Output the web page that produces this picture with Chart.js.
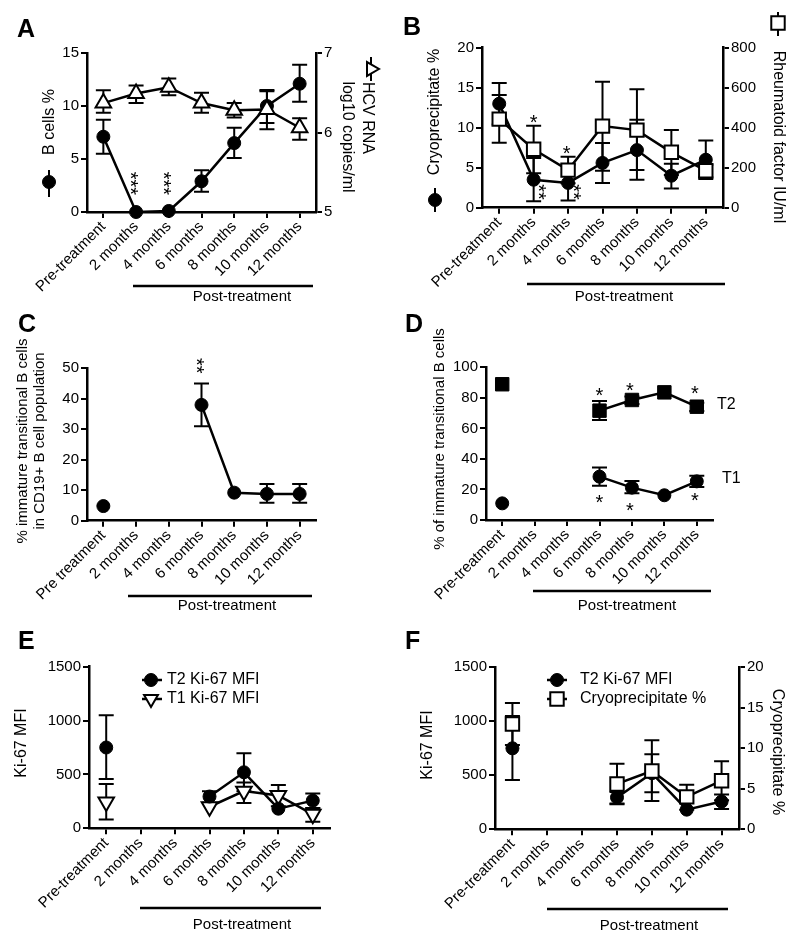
<!DOCTYPE html>
<html><head><meta charset="utf-8">
<script src="https://cdn.jsdelivr.net/npm/chart.js@4.4.0/dist/chart.umd.min.js"></script>
<style>
html,body{margin:0;padding:0;background:#fff;}
body{width:800px;height:947px;position:relative;overflow:hidden;}
canvas{position:absolute;}
</style></head><body>
<canvas id="cA" width="400" height="307" style="left:0;top:0;width:400px;height:307px"></canvas>
<canvas id="cB" width="400" height="307" style="left:400px;top:0;width:400px;height:307px"></canvas>
<canvas id="cC" width="400" height="308" style="left:0;top:307px;width:400px;height:308px"></canvas>
<canvas id="cD" width="400" height="308" style="left:400px;top:307px;width:400px;height:308px"></canvas>
<canvas id="cE" width="400" height="332" style="left:0;top:615px;width:400px;height:332px"></canvas>
<canvas id="cF" width="400" height="332" style="left:400px;top:615px;width:400px;height:332px"></canvas>
<script>
// ---------------- DATA ----------------
const timepoints  = ['Pre-treatment','2 months','4 months','6 months','8 months','10 months','12 months'];
const timepointsC = ['Pre treatment','2 months','4 months','6 months','8 months','10 months','12 months'];

// Panel A
const bCells   = [7.1, 0, 0.1, 2.9, 6.5, 10.0, 12.1];
const bCellsLo = [5.5, null, null, 1.9, 5.1, 8.4, 10.4];
const bCellsHi = [8.7, null, null, 3.95, 7.95, 11.5, 13.9];
const hcvRna   = [6.37, 6.49, 6.57, 6.37, 6.28, 6.29, 6.06];
const hcvRnaLo = [6.25, 6.37, 6.47, 6.25, 6.19, 6.04, 5.91];
const hcvRnaHi = [6.53, 6.59, 6.68, 6.50, 6.37, 6.52, 6.18];

// Panel B
const cryo    = [13.0, 3.5, 3.1, 5.6, 7.2, 4.0, 6.0];
const cryoLo  = [10.4, 0.8, 0.9, 3.1, 3.5, 2.4, 3.6];
const cryoHi  = [15.6, 6.2, 5.4, 8.1, 11.0, 5.5, 8.4];
const rheum   = [443, 292, 188, 408, 388, 277, 185];
const rheumLo = [325, 172, 122, 185, 188, 163, 152];
const rheumHi = [563, 410, 255, 630, 592, 388, 215];

// Panel C
const immature   = [4.8, null, null, 38.0, 9.2, 8.8, 8.8];
const immatureLo = [null, null, null, 31.0, null, 5.9, 5.9];
const immatureHi = [null, null, null, 45.0, null, 12.0, 12.0];

// Panel D
const t2Pct   = [88.9, null, null, 71.6, 78.6, 83.6, 74.2];
const t2PctLo = [null, null, null, 65.5, 76.0, null, 71.4];
const t2PctHi = [null, null, null, 77.9, 80.8, null, 76.8];
const t1Pct   = [10.9, null, null, 28.4, 21.2, 16.2, 25.3];
const t1PctLo = [null, null, null, 22.5, 17.5, null, 21.6];
const t1PctHi = [null, null, null, 34.3, 25.5, null, 29.0];

// Panel E / F
const t2Ki67   = [750, null, null, 295, 520, 182, 257];
const t2Ki67Lo = [457, null, null, 238, 344, null, 188];
const t2Ki67Hi = [1050, null, null, 345, 696, null, 322];
const t1Ki67   = [245, null, null, 200, 345, 305, 130];
const t1Ki67Lo = [82, null, null, null, 235, 205, 60];
const t1Ki67Hi = [412, null, null, null, 424, 402, 186];
const cryoF    = [13.0, null, null, 5.6, 7.2, 4.0, 6.0];
const cryoFLo  = [10.4, null, null, 3.1, 3.5, 2.4, 3.6];
const cryoFHi  = [15.6, null, null, 8.1, 11.0, 5.5, 8.4];

// ---------------- STYLE HELPERS ----------------
const FONT = '"Liberation Sans", Arial, Helvetica, sans-serif';
Chart.defaults.font.family = FONT;
Chart.defaults.font.size = 15;
Chart.defaults.color = '#000';

const CIRCLE   = {pointStyle:'circle',   pointRadius:6.5, pointBackgroundColor:'#000', pointBorderColor:'#000', pointBorderWidth:1};
const TRI_UP   = {pointStyle:'triangle', pointRadius:9,   pointBackgroundColor:'#fff', pointBorderColor:'#000', pointBorderWidth:2};
const TRI_DOWN = Object.assign({}, TRI_UP, {pointRotation:180});
const SQ_OPEN  = {pointStyle:'rect',     pointRadius:9.5, pointBackgroundColor:'#fff', pointBorderColor:'#000', pointBorderWidth:2};
const SQ_FILL  = {pointStyle:'rect',     pointRadius:9.5, pointBackgroundColor:'#000', pointBorderColor:'#000', pointBorderWidth:1};

function series(data, lo, hi, marker, axis) {
  return Object.assign({
    data: data, errLo: lo, errHi: hi, yAxisID: axis || 'y',
    borderColor:'#000', borderWidth:2.5, tension:0, fill:false, spanGaps:false,
    showLine:true, clip:false, pointHoverRadius: marker.pointRadius
  }, marker);
}

function yAxis(pos, min, max, step, width) {
  return {
    type:'linear', position:pos, min:min, max:max,
    ticks:{stepSize:step, color:'#000', font:{size:15}, padding:2, callback:(v) => String(v)},
    grid:{display:true, drawOnChartArea:false, drawTicks:true, tickLength:6, color:'#000', lineWidth:2},
    border:{display:true, color:'#000', width:2.5},
    afterFit(s){ s.width = width; }
  };
}
function xAxis(height) {
  return {
    type:'category', offset:true,
    ticks:{color:'#000', font:{size:15}, minRotation:45, maxRotation:45, autoSkip:false, padding:0},
    grid:{display:true, drawOnChartArea:false, drawTicks:true, tickLength:6, color:'#000', lineWidth:2, offset:false},
    border:{display:true, color:'#000', width:2.5},
    afterFit(s){ s.height = height; }
  };
}

function drawMarker(ctx, kind, x, y, r, fill, rot) {
  ctx.save(); ctx.translate(x, y); ctx.rotate((rot||0)*Math.PI/180);
  ctx.beginPath();
  if (kind === 'circle') ctx.arc(0, 0, r, 0, 2*Math.PI);
  else if (kind === 'rect') { const s = r*Math.SQRT1_2; ctx.rect(-s, -s, 2*s, 2*s); }
  else if (kind === 'triangle') {
    for (let k = 0; k < 3; k++) {
      const a = k*2*Math.PI/3, px = Math.sin(a)*r, py = -Math.cos(a)*r;
      if (k) ctx.lineTo(px, py); else ctx.moveTo(px, py);
    }
    ctx.closePath();
  }
  ctx.fillStyle = fill; ctx.fill();
  ctx.lineWidth = (fill === '#000') ? 1 : 2; ctx.strokeStyle = '#000'; ctx.stroke();
  ctx.restore();
}

// error bars drawn through the chart scales
const errorBars = {
  id:'errorBars',
  beforeDatasetsDraw(chart) {
    const ctx = chart.ctx;
    ctx.save(); ctx.strokeStyle = '#000'; ctx.lineWidth = 2;
    chart.data.datasets.forEach((d, di) => {
      if (!d.errLo) return;
      const meta = chart.getDatasetMeta(di);
      const ys = chart.scales[meta.yAxisID];
      meta.data.forEach((pt, i) => {
        if (d.data[i] == null) return;
        const x = pt.x, y0 = ys.getPixelForValue(d.data[i]);
        [d.errLo[i], d.errHi[i]].forEach(v => {
          if (v == null) return;
          const y = ys.getPixelForValue(v);
          ctx.beginPath(); ctx.moveTo(x, y0); ctx.lineTo(x, y);
          ctx.moveTo(x-7.5, y); ctx.lineTo(x+7.5, y); ctx.stroke();
        });
      });
    });
    ctx.restore();
  }
};

// decorations: panel letters, axis titles, stars, bracket, legends
const decor = {
  id:'decor',
  afterDraw(chart, args, o) {
    const ctx = chart.ctx;
    ctx.save();
    ctx.fillStyle = '#000'; ctx.strokeStyle = '#000';
    if (o.letter) {
      ctx.font = 'bold 25px ' + FONT; ctx.textAlign = 'left'; ctx.textBaseline = 'alphabetic';
      ctx.fillText(o.letter.t, o.letter.x, o.letter.y);
    }
    (o.titles || []).forEach(t => {
      ctx.save(); ctx.translate(t.x, t.y); ctx.rotate(t.rot*Math.PI/180);
      ctx.font = (t.size || 16) + 'px ' + FONT; ctx.textAlign = 'center'; ctx.textBaseline = 'middle';
      ctx.fillText(t.t, 0, 0); ctx.restore();
    });
    (o.symbols || []).forEach(s => {
      ctx.lineWidth = 2; ctx.beginPath(); ctx.moveTo(s.line[0], s.line[1]); ctx.lineTo(s.line[2], s.line[3]); ctx.stroke();
      drawMarker(ctx, s.kind, s.x, s.y, s.r, s.fill, s.rot);
    });
    (o.stars || []).forEach(s => {
      const xs = chart.scales.x, ys = chart.scales[s.axis || 'y'];
      const x = xs.getPixelForValue(s.i) + (s.dx || 0), y = ys.getPixelForValue(s.v);
      const size = s.size || 20;
      ctx.save(); ctx.translate(x, y); ctx.rotate((s.rot || 0)*Math.PI/180);
      ctx.font = size + 'px ' + FONT; ctx.textAlign = 'center'; ctx.textBaseline = 'alphabetic';
      ctx.fillText(s.t, 0, 0.58*size); ctx.restore();
    });
    if (o.post) {
      const p = o.post;
      ctx.lineWidth = 2.5; ctx.beginPath(); ctx.moveTo(p.x1, p.y); ctx.lineTo(p.x2, p.y); ctx.stroke();
      ctx.font = '15px ' + FONT; ctx.textAlign = 'center'; ctx.textBaseline = 'middle';
      ctx.fillText('Post-treatment', p.tx, p.ty);
    }
    (o.legend || []).forEach(l => {
      ctx.lineWidth = 2.5; ctx.beginPath(); ctx.moveTo(l.x1, l.y); ctx.lineTo(l.x2, l.y); ctx.stroke();
      drawMarker(ctx, l.kind, l.mx, l.y, l.r, l.fill, l.rot);
      ctx.font = '16px ' + FONT; ctx.textAlign = 'left'; ctx.textBaseline = 'middle';
      ctx.fillText(l.t, l.tx, l.y);
    });
    (o.labels || []).forEach(l => {
      ctx.font = '16px ' + FONT; ctx.textAlign = 'left'; ctx.textBaseline = 'middle';
      ctx.fillText(l.t, l.x, l.y);
    });
    ctx.restore();
  }
};

function makeChart(id, box, labels, datasets, scales, deco) {
  scales.x = xAxis(box.H - box.B);
  return new Chart(document.getElementById(id), {
    type:'line',
    data:{labels: labels, datasets: datasets},
    options:{
      responsive:false, animation:false, devicePixelRatio:1,
      layout:{autoPadding:false, padding:{top:box.T, left:0, right:box.padR || 0, bottom:0}},
      plugins:{legend:{display:false}, tooltip:{enabled:false}, decor: deco},
      scales: scales
    },
    plugins:[errorBars, decor]
  });
}

// ---------------- PANEL A ----------------
makeChart('cA', {H:307, T:53, B:212},
  timepoints,
  [series(hcvRna, hcvRnaLo, hcvRnaHi, TRI_UP, 'y2'),
   series(bCells, bCellsLo, bCellsHi, CIRCLE, 'y')],
  {y: yAxis('left', 0, 15, 5, 87), y2: yAxis('right', 5, 7, 1, 84)},
  {
    letter:{t:'A', x:17, y:37},
    titles:[{t:'B cells %', x:50, y:122, rot:-90},
            {t:'HCV RNA', x:367, y:118, rot:90},
            {t:'log10 copies/ml', x:347, y:137, rot:90}],
    symbols:[{kind:'circle', x:49, y:182, r:6.5, fill:'#000', line:[49,170,49,197]},
             {kind:'triangle', x:371, y:69, r:8, fill:'#fff', rot:90, line:[371,57,371,81]}],
    stars:[{i:1, v:2.7, t:'***', rot:90}, {i:2, v:2.7, t:'***', rot:90}],
    post:{x1:133, x2:313, y:286, tx:242, ty:297}
  });

// ---------------- PANEL B ----------------
makeChart('cB', {H:307, T:47.7, B:207.7},
  timepoints,
  [series(rheum, rheumLo, rheumHi, SQ_OPEN, 'y2'),
   series(cryo, cryoLo, cryoHi, CIRCLE, 'y')],
  {y: yAxis('left', 0, 20, 5, 82), y2: yAxis('right', 0, 800, 200, 77)},
  {
    letter:{t:'B', x:3, y:35},
    titles:[{t:'Cryoprecipitate %', x:35, y:112, rot:-90},
            {t:'Rheumatoid factor IU/ml', x:378, y:137, rot:90}],
    symbols:[{kind:'circle', x:35, y:200, r:6.5, fill:'#000', line:[35,188,35,212]},
             {kind:'rect', x:378, y:23, r:9.5, fill:'#fff', line:[378,12,378,36]}],
    stars:[{i:1, v:11.3, t:'*'}, {i:1, v:1.96, dx:9.5, t:'**', rot:90},
           {i:2, v:7.4, dx:-1.5, t:'*'}, {i:2, v:1.96, dx:10.5, t:'**', rot:90}],
    post:{x1:127, x2:325, y:284, tx:224, ty:297}
  });

// ---------------- PANEL C ----------------
makeChart('cC', {H:308, T:61.3, B:213.7, padR:84},
  timepointsC,
  [series(immature, immatureLo, immatureHi, CIRCLE, 'y')],
  {y: yAxis('left', 0, 50, 10, 87)},
  {
    letter:{t:'C', x:18, y:25},
    titles:[{t:'% immature transitional B cells', x:23, y:134, rot:-90, size:15},
            {t:'in CD19+ B cell population', x:40, y:134, rot:-90, size:15}],
    stars:[{i:3, v:50.8, t:'**', rot:90}],
    post:{x1:128, x2:312, y:289, tx:227, ty:299}
  });

// ---------------- PANEL D ----------------
makeChart('cD', {H:308, T:60.3, B:213, padR:87},
  timepoints,
  [series(t2Pct, t2PctLo, t2PctHi, SQ_FILL, 'y'),
   series(t1Pct, t1PctLo, t1PctHi, CIRCLE, 'y')],
  {y: yAxis('left', 0, 100, 20, 86)},
  {
    letter:{t:'D', x:5, y:25},
    titles:[{t:'% of immature transitional B cells', x:39.5, y:132, rot:-90, size:15}],
    stars:[{i:3, v:85.1, t:'*'}, {i:4, v:88.4, dx:-2, t:'*'}, {i:6, v:86.4, dx:-2, t:'*'},
           {i:3, v:14.9, t:'*'}, {i:4, v:9.4, dx:-2, t:'*'}, {i:6, v:15.9, dx:-2, t:'*'}],
    labels:[{t:'T2', x:317, y:98}, {t:'T1', x:322, y:172}],
    post:{x1:133, x2:311, y:284, tx:227, ty:299}
  });

// ---------------- PANEL E ----------------
makeChart('cE', {H:332, T:51.7, B:213.3, padR:70},
  timepoints,
  [series(t2Ki67, t2Ki67Lo, t2Ki67Hi, CIRCLE, 'y'),
   series(t1Ki67, t1Ki67Lo, t1Ki67Hi, TRI_DOWN, 'y')],
  {y: yAxis('left', 0, 1500, 500, 89)},
  {
    letter:{t:'E', x:18, y:34},
    titles:[{t:'Ki-67 MFI', x:22, y:128, rot:-90}],
    legend:[{kind:'circle', fill:'#000', r:6.5, x1:142, x2:162, mx:151, y:65, tx:167, t:'T2 Ki-67 MFI'},
            {kind:'triangle', fill:'#fff', r:8, rot:180, x1:142, x2:162, mx:151, y:84, tx:167, t:'T1 Ki-67 MFI'}],
    post:{x1:140, x2:321, y:293, tx:242, ty:310}
  });

// ---------------- PANEL F ----------------
makeChart('cF', {H:332, T:52.3, B:214.3},
  timepoints,
  [series(cryoF, cryoFLo, cryoFHi, SQ_OPEN, 'y2'),
   series(t2Ki67, t2Ki67Lo, t2Ki67Hi, CIRCLE, 'y')],
  {y: yAxis('left', 0, 1500, 500, 95), y2: yAxis('right', 0, 20, 5, 61)},
  {
    letter:{t:'F', x:5, y:34},
    titles:[{t:'Ki-67 MFI', x:28, y:130, rot:-90},
            {t:'Cryoprecipitate %', x:377, y:137, rot:90}],
    legend:[{kind:'circle', fill:'#000', r:6.5, x1:147, x2:167, mx:157, y:65, tx:180, t:'T2 Ki-67 MFI'},
            {kind:'rect', fill:'#fff', r:9.5, x1:147, x2:167, mx:157, y:84, tx:180, t:'Cryoprecipitate %'}],
    post:{x1:147, x2:328, y:294, tx:249, ty:311}
  });
</script>
</body></html>
